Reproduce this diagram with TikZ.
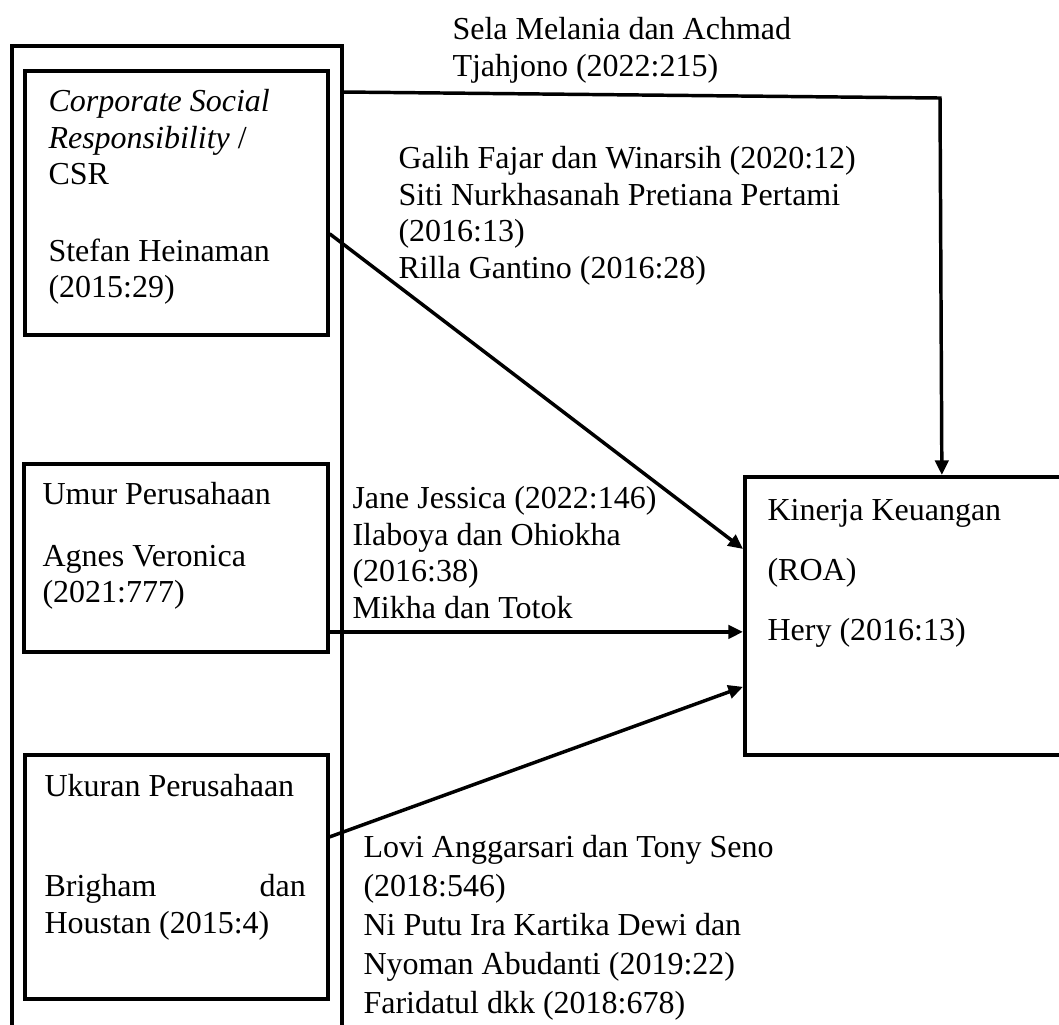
\documentclass[tikz,border=0pt]{standalone}
\usepackage{fontspec}
\setmainfont{Liberation Serif}
\usetikzlibrary{arrows.meta}
\begin{document}
\begin{tikzpicture}[x=0.375pt, y=-0.375pt,
    box/.style={draw, line width=1.4pt, inner sep=0pt, anchor=north west},
    txt/.style={inner sep=0pt, anchor=north west, align=left, font=\fontsize{12}{13.8}\selectfont},
    arr/.style={line width=1.3pt, -{Triangle[length=5.5pt, width=5pt]}}]
  \useasboundingbox (0,0) rectangle (1059,1024);
  % Outer frame
  \node[box, minimum width=123.75pt, minimum height=373.5pt] (frame) at (10,44) {};
  % Left boxes
  \node[box, minimum width=113.6pt, minimum height=99pt] (csr) at (23,69) {};
  \node[txt] (csrtxt) at (48,85) {\strut\textit{Corporate Social}\\
    \textit{Responsibility} /\\ CSR\\[14.8pt] Stefan Heinaman\\ (2015:29)};
  \node[box, minimum width=114pt, minimum height=70.5pt] (umur) at (22,462) {};
  \node[txt] (umurtxt) at (42,478) {\strut Umur Perusahaan\\[9.4pt]
    Agnes Veronica\\ (2021:777)};
  \node[box, minimum width=113.6pt, minimum height=91.5pt] (ukuran) at (23,753) {};
  \node[txt] (ukurantxt) at (44,770) {\strut Ukuran Perusahaan\\[23.7pt]
    \makebox[98pt]{Brigham\hfill dan}\\ Houstan (2015:4)};
  % Right box
  \node[box, minimum width=147.75pt, minimum height=104.25pt] (roa) at (743,475) {};
  \node[txt] (roatxt) at (767,494) {\strut Kinerja Keuangan\\[8.7pt]
    (ROA)\\[8.7pt] Hery (2016:13)};
  % Labels
  \node[txt] (selatxt) at (452,13) {\strut Sela Melania dan Achmad\\ Tjahjono (2022:215)};
  \node[txt] (galihtxt) at (398,142) {\strut Galih Fajar dan Winarsih (2020:12)\\
    Siti Nurkhasanah Pretiana Pertami\\ (2016:13)\\ Rilla Gantino (2016:28)};
  \node[txt] (janetxt) at (352,482) {\strut Jane Jessica (2022:146)\\
    Ilaboya dan Ohiokha\\ (2016:38)\\ Mikha dan Totok};
  \node[txt, font=\fontsize{12}{14.6}\selectfont] (lovitxt) at (363,830) {\strut Lovi Anggarsari dan Tony Seno\\ (2018:546)\\
    Ni Putu Ira Kartika Dewi dan\\ Nyoman Abudanti (2019:22)\\ Faridatul dkk (2018:678)};
  % Arrows
  \coordinate (bend) at (940,98);
  \draw[arr] ([yshift=-18pt]frame.north east) -- (bend) -- (roa.north);
  \draw[arr] ([yshift=-11.6pt]csr.east) -- ([yshift=25.1pt]roa.west);
  \coordinate (umurin) at ([yshift=-6pt]roa.west);
  \draw[arr] (umur.east |- umurin) -- (umurin);
  \draw[arr] ([yshift=15pt]ukuran.east) -- ([yshift=-26.6pt]roa.west);
\end{tikzpicture}
\end{document}
